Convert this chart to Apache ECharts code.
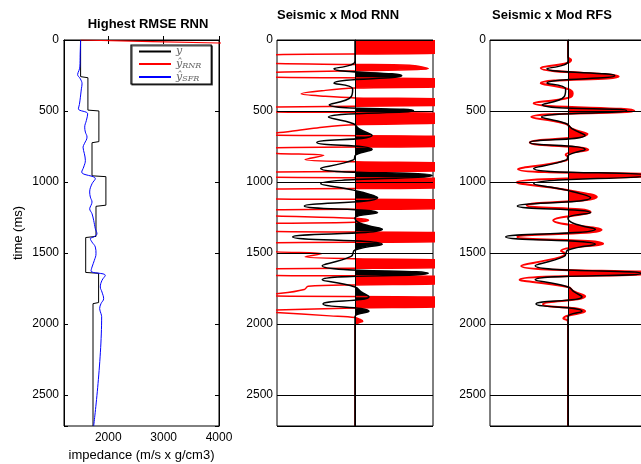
<!DOCTYPE html>
<html><head><meta charset="utf-8">
<script src="https://cdn.jsdelivr.net/npm/echarts@6/dist/echarts.min.js"></script>
<style>html,body{margin:0;padding:0;background:#fff}#c{width:641px;height:464px}</style>
</head><body><div id="c"></div>
<script>
// ---------- data (time ms, value) ----------
const timeTicks = [0, 500, 1000, 1500, 2000, 2500];
const impTicks = [2000, 3000, 4000];
const panelTitles = ['Highest RMSE RNN', 'Seismic x Mod RNN', 'Seismic x Mod RFS'];
const legendNames = ['y', 'ŷRNR', 'ŷSFR'];

// panel 1: impedance (m/s x g/cm3)
const impTrue = [[0,1500],[258,1500],[266,1632],[494,1632],[500,1830],[716,1830],[724,1706],[957,1706],[963,1957],[1164,1957],[1172,1778],[1384,1778],[1392,1592],[1638,1592],[1644,1825],[1850,1825],[1858,1724],[2720,1724]];
const impRNR = [[0,1500],[11,2800],[21,4000],[27,4700]];
const impSFR = [[0,1500],[100,1492],[190,1486],[215,1470],[243,1446],[274,1496],[309,1526],[344,1514],[403,1496],[455,1478],[485,1460],[520,1628],[567,1604],[614,1574],[649,1586],[684,1616],[731,1568],[755,1544],[801,1568],[848,1586],[895,1556],[931,1520],[977,1766],[1013,1706],[1071,1664],[1107,1676],[1142,1706],[1165,1688],[1189,1664],[1224,1706],[1271,1736],[1330,1766],[1365,1795],[1388,1736],[1400,1676],[1424,1706],[1459,1766],[1506,1778],[1553,1748],[1600,1706],[1628,1688],[1658,1946],[1694,1886],[1740,1856],[1776,1886],[1823,1916],[1858,1868],[1893,1844],[1928,1868],[1950,1880],[2720,1736]];

// panels 2-3: seismic trace (normalised amplitude, peaks and troughs)
const seismic = [[0,0],[150,0],[175,-0.05],[203,-0.27],[252,0.60],[304,-0.27],[345,-0.03],[400,-0.05],[457,-0.33],[498,0.75],[543,-0.34],[590,-0.02],[625,0.05],[672,0.22],[722,-0.49],[771,0.22],[810,0.01],[845,-0.02],[905,-0.44],[954,0.99],[1013,-0.44],[1058,-0.02],[1111,0.29],[1170,-0.65],[1217,0.29],[1255,0.0],[1290,0.06],[1334,0.35],[1388,-0.80],[1440,0.35],[1480,0],[1525,-0.05],[1590,-0.42],[1644,0.94],[1689,-0.42],[1740,0],[1775,0.08],[1809,0.18],[1860,-0.41],[1912,0.18],[1950,0],[1975,0],[2720,0]];
// modelled trace, RNN
const rnnTrace = [[0,2.5],[50,2.5],[93,1.1],[104,-1.1],[135,-2.5],[165,-1.1],[172,0],[178,0.7],[190,0.86],[203,0.94],[211,0.55],[217,0],[223,-0.7],[229,-1.1],[246,-2.5],[262,-1.1],[274,1.1],[303,2.5],[331,1.1],[339,0],[355,-0.38],[379,-0.69],[397,-0.38],[408,0],[414,1.1],[438,2.5],[461,1.1],[472,-1.1],[490,-2.5],[506,-1.1],[517,1.1],[552,2.5],[586,1.1],[597,0],[614,-0.42],[635,-0.7],[656,-1.05],[664,-2],[670,-1.1],[680,1.1],[722,2.5],[750,1.1],[760,-1.1],[780,-1.6],[799,-1.0],[813,-0.40],[842,-0.64],[858,0],[866,1.1],[895,2.5],[922,1.1],[931,-1.1],[950,-2.5],[967,-1.1],[975,1.1],[1008,2.5],[1042,1.1],[1051,-1.1],[1087,-2.5],[1119,-1.1],[1127,1.1],[1158,2.5],[1188,1.1],[1197,-1.1],[1218,-2],[1238,-1.1],[1256,0],[1271,0.175],[1284,0],[1293,-1.1],[1322,-2.5],[1349,-1.1],[1357,1.1],[1390,2.5],[1421,1.1],[1429,-1.1],[1462,-2],[1493,-1.0],[1505,-0.42],[1528,-0.64],[1542,0],[1549,1.1],[1578,2.5],[1605,1.1],[1613,-1.1],[1637,-2.5],[1658,-1.1],[1665,1.1],[1692,2.5],[1719,1.1],[1726,0],[1735,-0.6],[1758,-0.65],[1785,-0.95],[1795,-1.3],[1804,-1.1],[1812,1.1],[1848,2.5],[1880,1.1],[1888,0],[1903,-1.05],[1911,-1.4],[1919,-1.05],[1944,-0.32],[1956,0],[1968,0.06],[1981,0.1],[1993,0.05],[2010,0],[2720,0]];
// modelled trace, RFS (peaks and troughs)
const rfsTrace = [[0,0],[120,0],[140,0.04],[160,0],[198,-0.35],[257,0.65],[304,-0.35],[345,0.0],[375,0.06],[405,0.02],[445,-0.44],[498,0.85],[543,-0.47],[590,-0.03],[625,0.05],[663,0.25],[722,-0.49],[773,0.26],[797,0],[808,-0.03],[825,0],[850,-0.03],[910,-0.64],[952,1.15],[1003,-0.66],[1055,-0.03],[1107,0.37],[1165,-0.53],[1212,0.29],[1271,-0.19],[1337,0.43],[1388,-0.65],[1435,0.45],[1487,-0.09],[1505,-0.04],[1530,-0.1],[1592,-0.60],[1642,1.1],[1689,-0.62],[1740,0.0],[1770,0.07],[1806,0.22],[1862,-0.32],[1912,0.22],[1963,-0.06],[1985,0],[2720,0]];

// ---------- chart ----------
const FONT = '"Liberation Sans", Arial, Helvetica, sans-serif';
const pts = arr => arr.map(d => [d[1], d[0]]);
const lab = v => (timeTicks.indexOf(v) >= 0 ? String(v) : '');
const blackLine = {show: true, lineStyle: {color: '#000', width: 1}};
const gridBase = {top: 40, height: 386, show: true, borderColor: '#000', borderWidth: 1,
  backgroundColor: 'transparent', containLabel: false, outerBoundsMode: 'none'};
const posFill = col => [{lt: 0, color: 'rgba(255,255,255,0)'}, {gte: 0, lt: 50, color: col}, {gte: 50, color: col}];
const traceY = (g) => ({gridIndex: g, type: 'time', min: 0, max: 2720, inverse: true, show: false});
const labelY = (g) => ({gridIndex: g, type: 'value', min: 0, max: 2720, interval: 500, inverse: true, z: 5,
  axisLine: blackLine, axisTick: {show: false},
  axisLabel: {formatter: lab, color: '#000', fontSize: 12, fontFamily: FONT, margin: 4},
  splitLine: {show: true, lineStyle: {color: '#000', width: 1}}});

const option = {
  animation: false,
  backgroundColor: '#fff',
  grid: [
    Object.assign({}, gridBase, {left: 64, width: 155}),
    Object.assign({}, gridBase, {left: 277, width: 156}),
    Object.assign({}, gridBase, {left: 490, width: 156})
  ],
  graphic: [
    {type: 'text', x: 148, y: 24, style: {text: panelTitles[0], align: 'center', verticalAlign: 'middle', fontSize: 13, fontWeight: 'bold', fontFamily: FONT, fill: '#000'}},
    {type: 'text', x: 338, y: 15, style: {text: panelTitles[1], align: 'center', verticalAlign: 'middle', fontSize: 13, fontWeight: 'bold', fontFamily: FONT, fill: '#000'}},
    {type: 'text', x: 552, y: 15, style: {text: panelTitles[2], align: 'center', verticalAlign: 'middle', fontSize: 13, fontWeight: 'bold', fontFamily: FONT, fill: '#000'}}
  ],
  legend: {
    data: legendNames, left: 131, top: 45, orient: 'vertical', selectedMode: false,
    itemWidth: 32, itemHeight: 11, itemGap: 1.5, padding: [1, 10, 1, 7],
    borderColor: '#000', borderWidth: 1.2, backgroundColor: '#fff',
    shadowColor: 'rgba(0,0,0,0.7)', shadowOffsetX: 1, shadowOffsetY: 1, shadowBlur: 0,
    itemStyle: {opacity: 0},
    formatter: n => (n === 'y' ? '{i|y}' : '{i|ŷ}{s|' + n.slice(1) + '}'),
    textStyle: {color: '#666', rich: {
      i: {fontFamily: '"DejaVu Serif", serif', fontStyle: 'italic', fontSize: 11, color: '#666'},
      s: {fontFamily: '"DejaVu Serif", serif', fontStyle: 'italic', fontSize: 8, color: '#666', padding: [4, 0, 0, 0]}
    }}
  },
  xAxis: [
    {gridIndex: 0, type: 'value', min: 1200, max: 4000, position: 'bottom',
      axisLine: blackLine, axisTick: {show: true, inside: true, length: 4, customValues: impTicks, lineStyle: {color: '#000'}},
      axisLabel: {customValues: impTicks, formatter: v => String(v), color: '#000', fontSize: 12, fontFamily: FONT, margin: 6},
      splitLine: {show: false},
      name: 'impedance (m/s x g/cm3)', nameLocation: 'middle', nameGap: 18,
      nameTextStyle: {color: '#000', fontSize: 13, fontFamily: FONT}},
    {gridIndex: 0, type: 'value', min: 1200, max: 4000, position: 'top',
      axisLine: blackLine, axisTick: {show: true, inside: true, length: 4, customValues: impTicks, lineStyle: {color: '#000'}},
      axisLabel: {show: false}, splitLine: {show: false}},
    {gridIndex: 1, type: 'value', min: -1, max: 1, show: false},
    {gridIndex: 2, type: 'value', min: -1, max: 1, show: false}
  ],
  yAxis: [
    {gridIndex: 0, type: 'value', min: 0, max: 2720, interval: 500, inverse: true, position: 'left',
      axisLine: blackLine, axisTick: {show: true, inside: true, length: 4, lineStyle: {color: '#000'}},
      axisLabel: {formatter: lab, color: '#000', fontSize: 12, fontFamily: FONT, margin: 5},
      splitLine: {show: false},
      name: 'time (ms)', nameLocation: 'middle', nameGap: 39, nameRotate: 90,
      nameTextStyle: {color: '#000', fontSize: 13, fontFamily: FONT}},
    {gridIndex: 0, type: 'value', min: 0, max: 2720, interval: 500, inverse: true, position: 'right',
      axisLine: blackLine, axisTick: {show: true, inside: true, length: 4, lineStyle: {color: '#000'}},
      axisLabel: {show: false}, splitLine: {show: false}},
    labelY(1), traceY(1),
    labelY(2), traceY(2)
  ],
  visualMap: [
    {type: 'piecewise', show: false, dimension: 0, seriesIndex: 3, pieces: posFill('#ff0000')},
    {type: 'piecewise', show: false, dimension: 0, seriesIndex: 4, pieces: posFill('#000000')},
    {type: 'piecewise', show: false, dimension: 0, seriesIndex: 5, pieces: posFill('#ff0000')}
  ],
  series: [
    {name: 'y', type: 'line', xAxisIndex: 0, yAxisIndex: 0, data: pts(impTrue), symbol: 'none', color: '#000', lineStyle: {color: '#000', width: 1}},
    {name: 'ŷRNR', type: 'line', xAxisIndex: 0, yAxisIndex: 0, data: pts(impRNR), symbol: 'none', color: '#ff0000', lineStyle: {color: '#ff0000', width: 1.2}},
    {name: 'ŷSFR', type: 'line', xAxisIndex: 0, yAxisIndex: 0, data: pts(impSFR), symbol: 'none', smooth: 0.4, color: '#0000ff', lineStyle: {color: '#0000ff', width: 1}},
    {name: 'RNN modelled', type: 'line', xAxisIndex: 2, yAxisIndex: 3, data: pts(rnnTrace), symbol: 'none', smooth: 0.35, clip: true,
      lineStyle: {color: '#ff0000', width: 1.5}, areaStyle: {opacity: 1}},
    {name: 'Seismic RNN', type: 'line', xAxisIndex: 2, yAxisIndex: 3, data: pts(seismic), symbol: 'none', smooth: 0.5, clip: true,
      lineStyle: {color: '#000', width: 1.5}, areaStyle: {opacity: 1}},
    {name: 'RFS modelled', type: 'line', xAxisIndex: 3, yAxisIndex: 5, data: pts(rfsTrace), symbol: 'none', smooth: 0.5, clip: true,
      lineStyle: {color: '#ff0000', width: 2}, areaStyle: {opacity: 1}},
    {name: 'Seismic RFS', type: 'line', xAxisIndex: 3, yAxisIndex: 5, data: pts(seismic), symbol: 'none', smooth: 0.5, clip: true,
      lineStyle: {color: '#000', width: 1.5}}
  ]
};
const chart = echarts.init(document.getElementById('c'));
chart.setOption(option);
</script></body></html>
